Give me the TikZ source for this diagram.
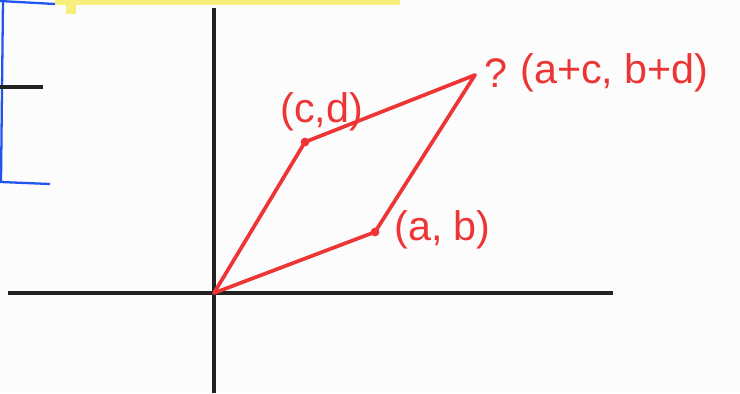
\documentclass[tikz,border=0pt]{standalone}
\usepackage{fontspec}
\setmainfont{Liberation Sans}
\usetikzlibrary{positioning}
\definecolor{Pen}  {HTML}{EE3535}
\definecolor{Ink}  {HTML}{222222}
\definecolor{Blu}  {HTML}{2255F0}
\definecolor{Hili} {HTML}{F7EF7C}
\definecolor{Paper}{HTML}{FCFCFC}
\tikzset{
  axisln/.style={draw=Ink, line width=2.2pt},
  side/.style={draw=Pen, line width=2.1pt, line cap=round, line join=round},
  boxln/.style={draw=Blu, line width=1.3pt},
  lbl/.style={text=Pen, font=\fontsize{23.5}{26}\selectfont, inner sep=0pt, anchor=west},
  pt/.style={circle, fill=Pen, inner sep=0pt, minimum size=5pt},
}
\begin{document}
\begin{tikzpicture}[x=0.02cm,y=-0.02cm]
    \fill[Paper] (0,0) rectangle (740,393);
    \useasboundingbox (0,0) rectangle (740,393);
    % left-over strokes
    \fill[Hili] (55,0) rectangle (400,5);
    \fill[Hili] (66,0) rectangle (76,14);
    \draw[boxln] (0,1) -- (55,4);
    \draw[boxln] (3,0) -- (1,182) -- (50,184);
    \draw[axisln] (0,87) -- (43,87);
    % axes
    \draw[axisln] (214,8) -- (214,393);
    \draw[axisln] (8,293) -- (613,293);
    % parallelogram
    \coordinate (o) at (214,293);
    \node[pt] (ab) at (375,232) {};
    \node[pt] (cd) at (305,142) {};
    \coordinate (sum) at (475,75);
    \draw[side] (o) -- (ab.center); \draw[side] (ab.center) -- (sum);
    \draw[side] (sum) -- (cd.center); \draw[side] (cd.center) -- (o);
    \node[lbl] (cdl) at (280,112) {(c,d)};
    \node[lbl] (q) at (484,73) {?};
    \node[lbl] (suml) at (520,73) {(a+c, b+d)};
    \node[lbl] (abl) at (394,230) {(a, b)};
\end{tikzpicture}
\end{document}
